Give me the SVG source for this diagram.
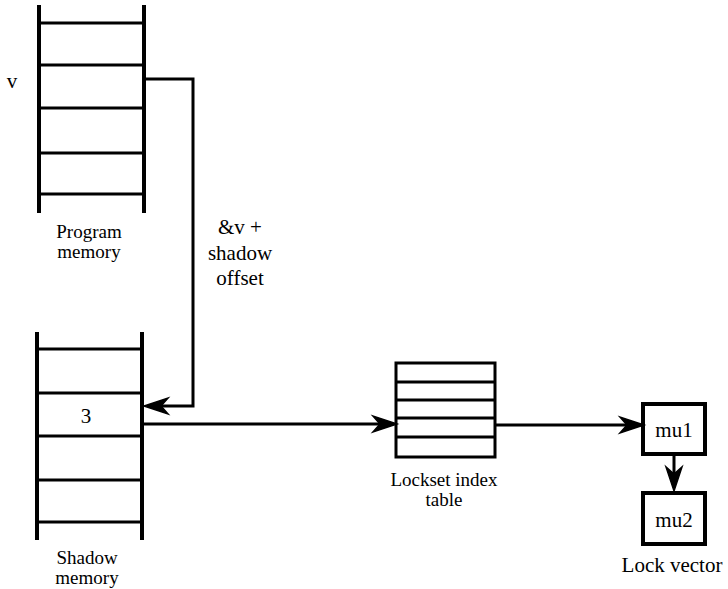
<svg xmlns="http://www.w3.org/2000/svg" width="728" height="589" viewBox="0 0 728 589">
<style>
.rail{stroke:#000;stroke-width:4;fill:none}
.rung{stroke:#000;stroke-width:3;fill:none}
.box{stroke:#000;stroke-width:4;fill:#fff}
.tbl{stroke:#000;stroke-width:3;fill:#fff}
.conn{stroke:#000;stroke-width:3;fill:none}
text{font-family:"Liberation Serif","Times New Roman",serif;font-size:21px;fill:#000;text-anchor:middle}
text.two{font-size:19px}
</style>
<defs>
<marker id="arr" markerUnits="userSpaceOnUse" markerWidth="28" markerHeight="20" refX="20" refY="8" orient="auto" overflow="visible">
<path d="M24,8 L0,0 L7,8 L0,16 Z" fill="#000" stroke="#000" stroke-width="1.5" stroke-linejoin="miter"/>
</marker>
</defs>
<rect width="728" height="589" fill="#fff"/>
<g id="program-memory">
<line class="rail" x1="39" y1="5" x2="39" y2="213"/>
<line class="rail" x1="144" y1="5" x2="144" y2="213"/>
<line class="rung" x1="39" y1="23" x2="144" y2="23"/>
<line class="rung" x1="39" y1="65" x2="144" y2="65"/>
<line class="rung" x1="39" y1="108" x2="144" y2="108"/>
<line class="rung" x1="39" y1="153" x2="144" y2="153"/>
<line class="rung" x1="39" y1="194" x2="144" y2="194"/>
<text x="12" y="88">v</text>
<text class="two" x="89" y="238">Program</text>
<text class="two" x="89" y="258">memory</text>
</g>
<g id="shadow-memory">
<line class="rail" x1="37" y1="332" x2="37" y2="540"/>
<line class="rail" x1="142" y1="332" x2="142" y2="540"/>
<line class="rung" x1="37" y1="349" x2="142" y2="349"/>
<line class="rung" x1="37" y1="393" x2="142" y2="393"/>
<line class="rung" x1="37" y1="436" x2="142" y2="436"/>
<line class="rung" x1="37" y1="480" x2="142" y2="480"/>
<line class="rung" x1="37" y1="522" x2="142" y2="522"/>
<text x="86" y="423">3</text>
<text class="two" x="87" y="564">Shadow</text>
<text class="two" x="87" y="584">memory</text>
</g>
<g id="lockset-index-table">
<rect class="tbl" x="396" y="363" width="99" height="94"/>
<line class="rung" x1="396" y1="382" x2="495" y2="382"/>
<line class="rung" x1="396" y1="400" x2="495" y2="400"/>
<line class="rung" x1="396" y1="418" x2="495" y2="418"/>
<line class="rung" x1="396" y1="437" x2="495" y2="437"/>
<text class="two" x="444" y="486">Lockset index</text>
<text class="two" x="444" y="506">table</text>
</g>
<g id="mu1">
<rect class="box" x="643" y="404" width="62" height="50"/>
<text x="674" y="437">mu1</text>
</g>
<g id="mu2">
<rect class="box" x="643" y="493" width="62" height="51"/>
<text x="674" y="527">mu2</text>
</g>
<g id="lock-vector-label">
<text x="672" y="572">Lock vector</text>
</g>
<g id="connectors">
<path class="conn" d="M144,79 H193 V406 H148" marker-end="url(#arr)"/>
<text x="240" y="234">&amp;v +</text>
<text x="240" y="260">shadow</text>
<text x="240" y="285">offset</text>
<path class="conn" d="M144,424 H393" marker-end="url(#arr)"/>
<path class="conn" d="M495,425 H640" marker-end="url(#arr)"/>
<path class="conn" d="M674,456 V487" marker-end="url(#arr)"/>
</g>
</svg>
